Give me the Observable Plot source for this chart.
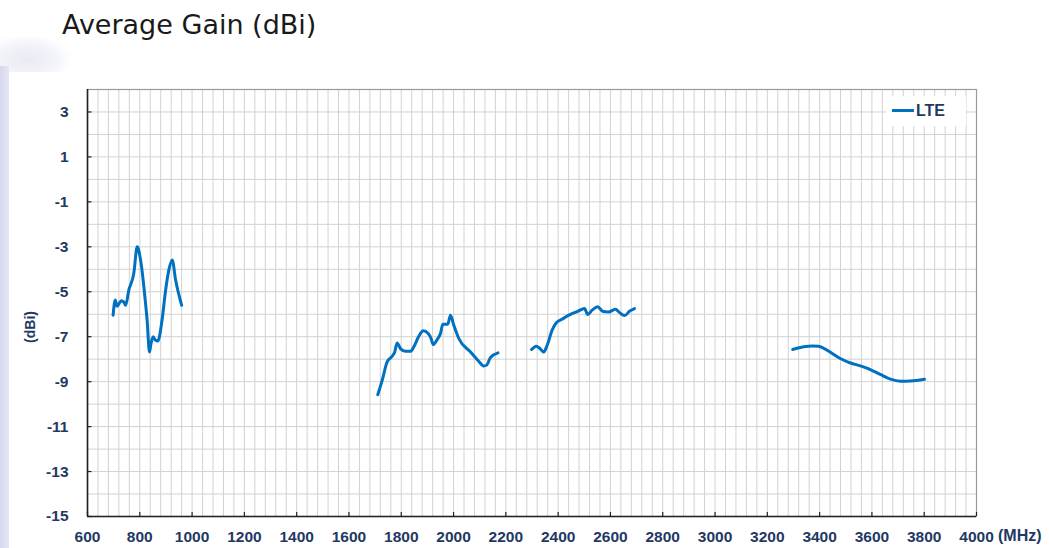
<!DOCTYPE html>
<html>
<head>
<meta charset="utf-8">
<script src="https://cdn.jsdelivr.net/npm/d3@7"></script>
<script src="https://cdn.jsdelivr.net/npm/@observablehq/plot@0.6"></script>
<style>
  html, body { margin: 0; padding: 0; background: #ffffff; }
  #wrap { position: relative; width: 1049px; height: 548px; overflow: hidden; background: #ffffff; }
  #stripe { position: absolute; left: 0; top: 66px; width: 9px; height: 482px;
    background: linear-gradient(90deg, #d6d6ef, #e6e6f6); }
  #blob { position: absolute; left: -10px; top: 36px; width: 80px; height: 36px;
    background: radial-gradient(ellipse at 45% 65%, #e9eaf3 0%, #f4f5fa 50%, rgba(255,255,255,0) 75%); }
  #title { position: absolute; left: 62px; top: 9px; font-family: "DejaVu Sans", Verdana, sans-serif;
    font-size: 27px; color: #1a1a1a; white-space: nowrap; }
  #chart { position: absolute; left: 0; top: 0; }
  #ylab { position: absolute; left: 30px; top: 327px; transform: translate(-50%, -50%) rotate(-90deg);
    font-family: "Liberation Sans", Arial, sans-serif; font-weight: bold; font-size: 14px; color: #1f3864; white-space: nowrap; }
  #xlab { position: absolute; left: 998px; top: 527px; font-family: "Liberation Sans", Arial, sans-serif;
    font-weight: bold; font-size: 16px; color: #1f3864; white-space: nowrap; }
  #legend { position: absolute; left: 886px; top: 96px; width: 80px; height: 30px; background: #ffffff;
    font-family: "Liberation Sans", Arial, sans-serif; font-weight: bold; font-size: 16px; color: #1f3864; }
  #legend .sw { position: absolute; left: 6px; top: 13px; width: 22px; height: 3px; background: #0070c0; }
  #legend .tx { position: absolute; left: 30px; top: 6px; }
</style>
</head>
<body>
<div id="wrap">
  <div id="blob"></div>
  <div id="stripe"></div>
  <div id="title">Average Gain (dBi)</div>
  <div id="chart"></div>
  <div id="ylab">(dBi)</div>
  <div id="xlab">(MHz)</div>
  <div id="legend"><div class="sw"></div><div class="tx">LTE</div></div>
</div>
<script>
// Band 1 (low band)
const band1Freq = [698, 706, 713, 729, 739, 746, 758, 777, 790, 803, 822, 828, 837, 843, 851, 860, 869, 885, 898, 911, 924, 937, 960];
const band1Gain = [-6.04, -5.37, -5.64, -5.40, -5.46, -5.60, -4.93, -4.19, -3.00, -3.59, -5.52, -6.26, -7.68, -7.30, -7.00, -7.16, -7.19, -6.27, -5.00, -4.04, -3.59, -4.48, -5.60];
// Band 2 (mid band)
const band2Freq = [1710, 1727, 1746, 1765, 1775, 1784, 1797, 1816, 1835, 1848, 1867, 1884, 1903, 1914, 1922, 1937, 1950, 1959, 1978, 1988, 2001, 2020, 2065, 2096, 2115, 2126, 2141, 2170];
const band2Gain = [-9.58, -8.94, -8.12, -7.87, -7.68, -7.28, -7.53, -7.65, -7.65, -7.45, -6.98, -6.74, -6.86, -7.08, -7.35, -7.13, -6.86, -6.44, -6.44, -6.04, -6.49, -7.08, -7.68, -8.09, -8.30, -8.27, -7.93, -7.72];
// Band 3 (high band)
const band3Freq = [2298, 2317, 2328, 2345, 2358, 2377, 2393, 2415, 2447, 2473, 2501, 2513, 2530, 2551, 2572, 2593, 2619, 2636, 2654, 2674, 2692];
const band3Gain = [-7.57, -7.42, -7.50, -7.68, -7.38, -6.71, -6.38, -6.22, -6.01, -5.88, -5.75, -6.01, -5.82, -5.67, -5.88, -5.90, -5.78, -5.94, -6.06, -5.86, -5.75];
// Band 4 (3.5 GHz band)
const band4Freq = [3297, 3339, 3371, 3396, 3428, 3479, 3518, 3556, 3594, 3632, 3671, 3709, 3747, 3801];
const band4Gain = [-7.57, -7.45, -7.41, -7.42, -7.60, -7.97, -8.17, -8.30, -8.46, -8.68, -8.89, -8.98, -8.97, -8.89];

const xTicks = d3.range(600, 4001, 200);
const yTicks = d3.range(-15, 3.01, 2);
const xGrid = d3.range(600, 4001, 40);
const yGrid = d3.range(-15, 4.01, 1);

const bands = [[band1Freq, band1Gain], [band2Freq, band2Gain], [band3Freq, band3Gain], [band4Freq, band4Gain]];
const data = bands.flatMap(([f, g], i) => f.map((v, j) => ({band: i, f: v, g: g[j]})));

const navy = "#1f3864";
const plain = d => String(d);
const chart = Plot.plot({
  width: 1049,
  height: 548,
  marginLeft: 87,
  marginRight: 73,
  marginTop: 89,
  marginBottom: 32,
  style: {background: "transparent", fontFamily: "'Liberation Sans', Arial, sans-serif"},
  x: {domain: [600, 4000]},
  y: {domain: [-15, 4]},
  marks: [
    Plot.gridX(xGrid, {stroke: "#d2d2d2", strokeOpacity: 1, strokeWidth: 1}),
    Plot.gridY(yGrid, {stroke: "#d2d2d2", strokeOpacity: 1, strokeWidth: 1}),
    Plot.frame({stroke: "#9a9a9a", strokeWidth: 1.2}),
    Plot.ruleX([600], {stroke: "#222", strokeWidth: 1.6}),
    Plot.ruleY([-15], {stroke: "#222", strokeWidth: 1.6}),
    Plot.ruleX(xTicks, {y1: -15, y2: -14.82, stroke: "#222", strokeWidth: 1.2}),
    Plot.ruleY(yTicks, {x1: 600, x2: 617, stroke: "#222", strokeWidth: 1.2}),
    Plot.axisX(xTicks, {tickSize: 0, tickPadding: 14, tickFormat: plain, fontSize: 15.5, fontWeight: "bold", fill: navy, label: null}),
    Plot.axisY(yTicks, {tickSize: 0, tickPadding: 19, tickFormat: plain, fontSize: 15.5, fontWeight: "bold", fill: navy, label: null}),
    Plot.line(data, {x: "f", y: "g", z: "band", stroke: "#0070c0", strokeWidth: 3, curve: "monotone-x"})
  ]
});
document.getElementById("chart").appendChild(chart);
</script>
</body>
</html>
